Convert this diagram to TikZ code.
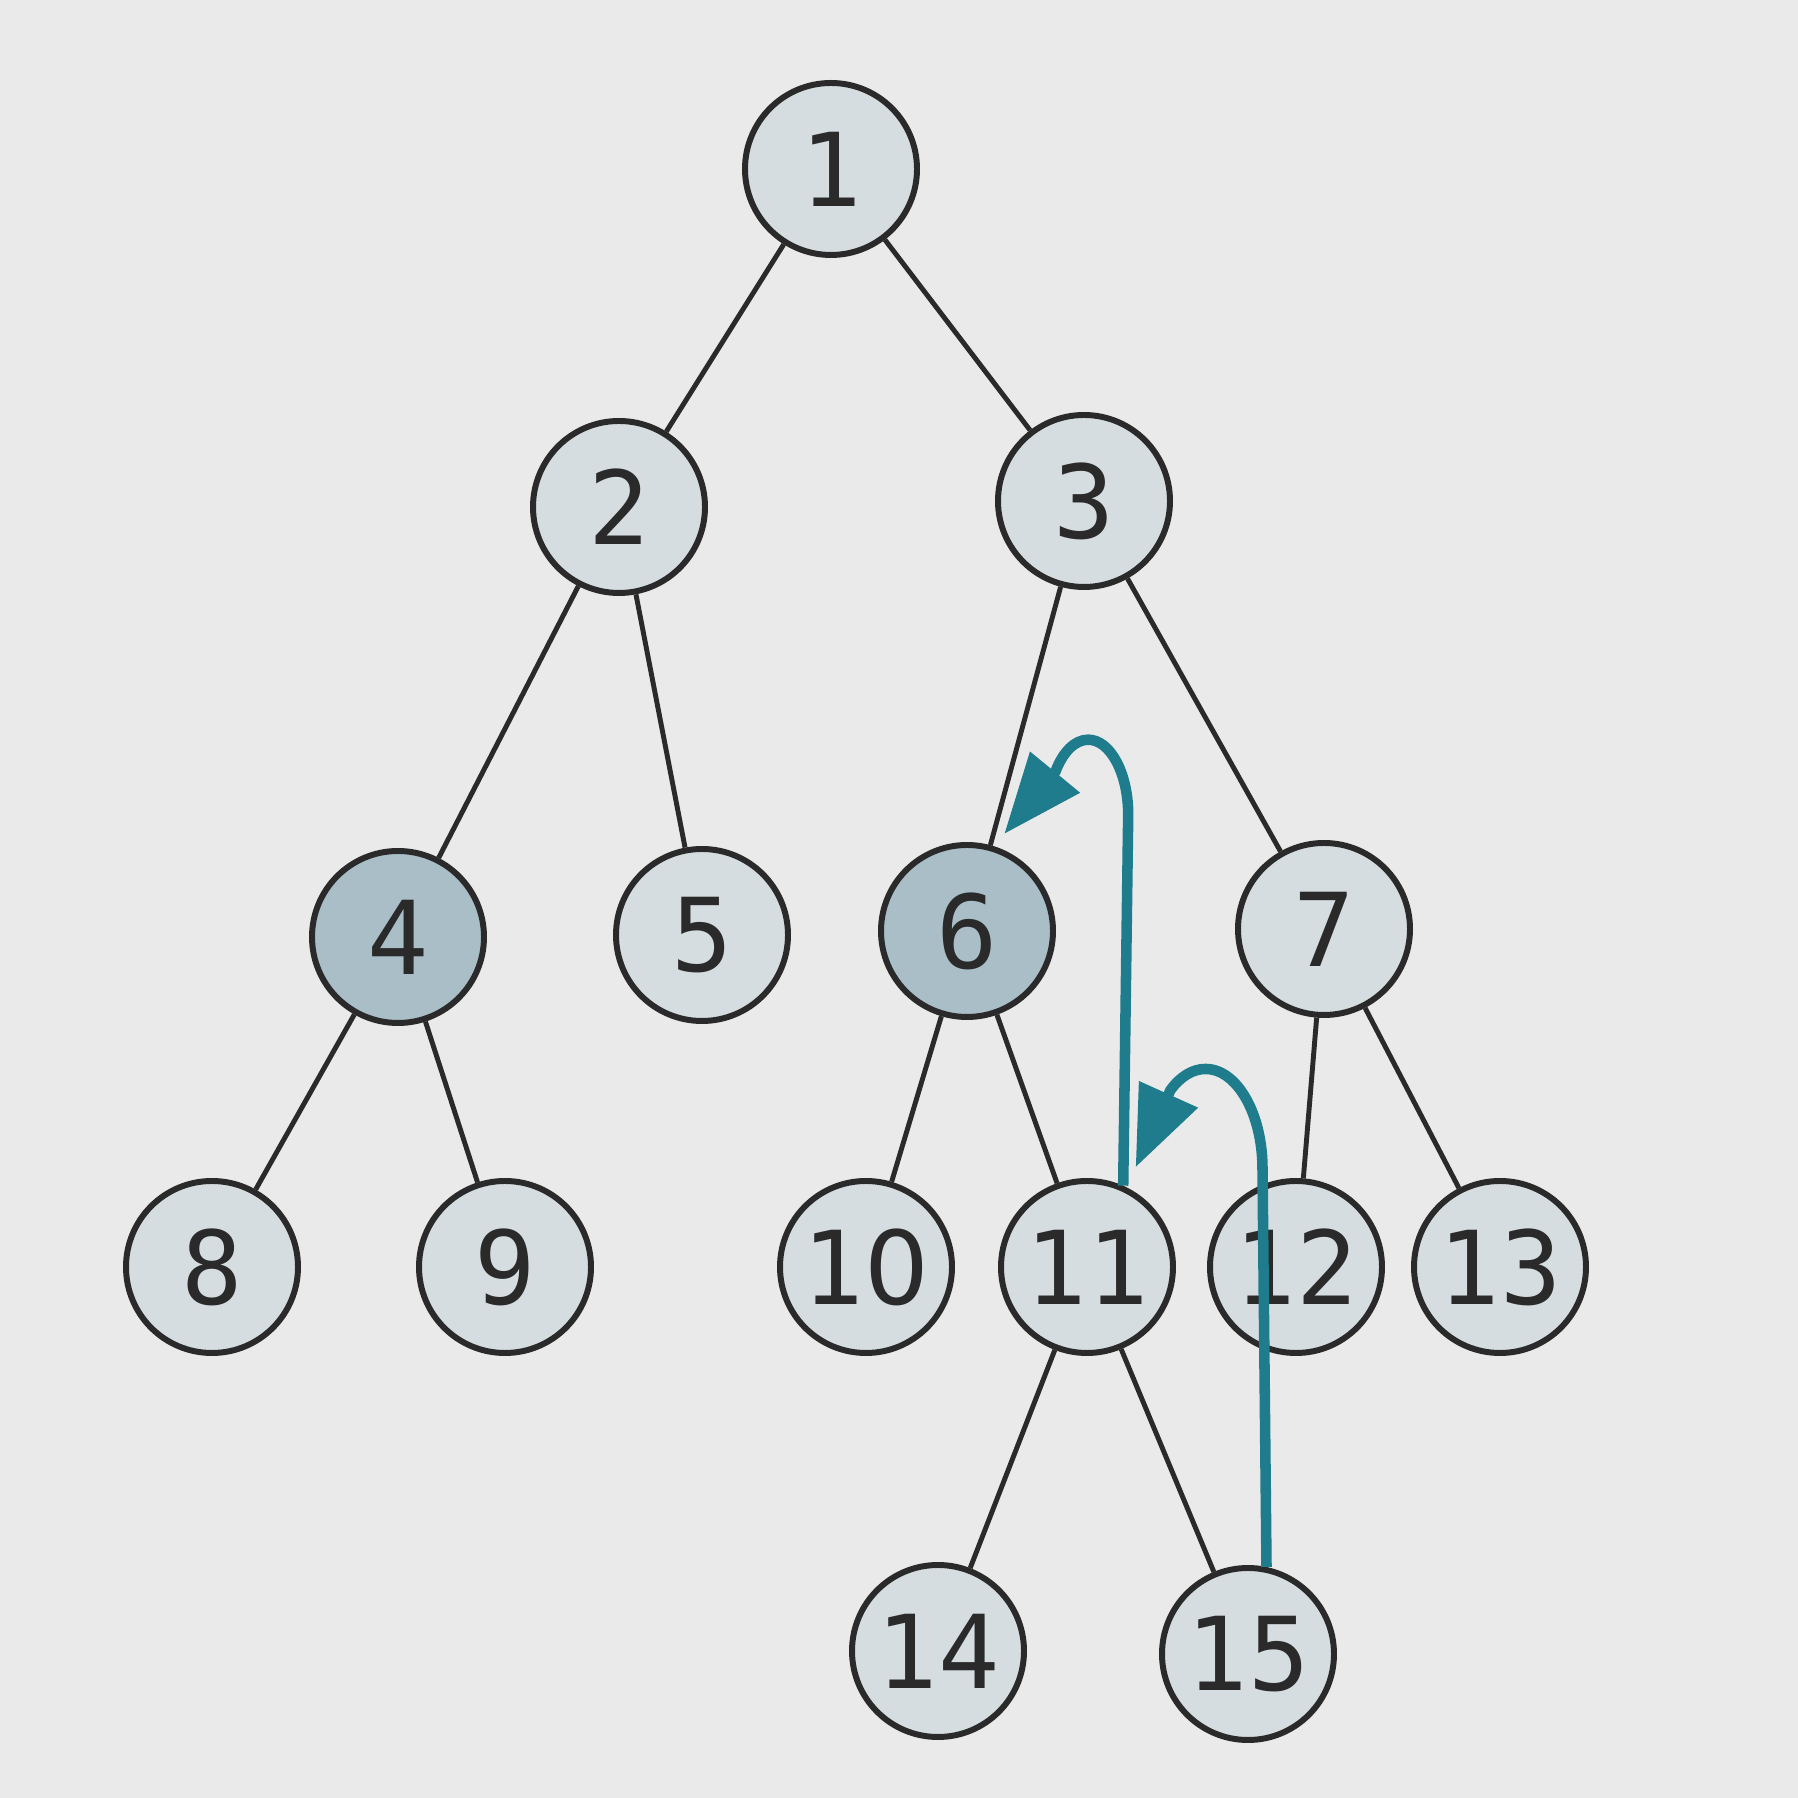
\documentclass[tikz,border=0pt]{standalone}
\usepackage{fontspec}
\setmonofont{DejaVu Sans Mono}
\newfontfamily\plainzero{DejaVu Sans}
\usetikzlibrary{arrows.meta}
\definecolor{paper}{HTML}{EAEAEA}
\definecolor{nodelight}{HTML}{D6DDE1}
\definecolor{nodedark}{HTML}{A9BEC7}
\definecolor{inkgray}{HTML}{2A2A2A}
\definecolor{swapteal}{HTML}{1E7C8C}
\tikzset{
  vertex/.style={circle, draw=inkgray, line width=1.7pt, fill=nodelight,
    minimum size=1.72cm, inner sep=0pt,
    font=\ttfamily\fontsize{29}{31}\selectfont, text=inkgray},
  marked/.style={vertex, fill=nodedark},
  edge/.style={draw=inkgray, line width=1.4pt},
  swapline/.style={draw=swapteal, line width=3pt,
    -{Triangle[length=0.8cm,width=0.62cm]}}
}
\begin{document}
\begin{tikzpicture}
	%%%%% START %%%%%
	\fill[paper] (0,0) rectangle (17.98,17.98);
	
	\node[vertex] (n1) at (8.31, 16.29) {1};
	
	\node[vertex] (n2) at (6.19, 12.91) {2};
	\node[vertex] (n3) at (10.84, 12.97) {3};
	
	\node[marked] (n4) at (3.98, 8.61) {4};
	\node[vertex] (n5) at (7.02, 8.63) {5};
	\node[marked] (n6) at (9.67, 8.67) {6};
	\node[vertex] (n7) at (13.24, 8.69) {7};
	
	\node[vertex] (n8) at (2.12, 5.31) {8};
	\node[vertex] (n9) at (5.05, 5.31) {9};
	\node[vertex] (n10) at (8.66, 5.31) {1{\plainzero 0}};
	\node[vertex] (n11) at (10.87, 5.31) {11};
	\node[vertex] (n12) at (12.96, 5.31) {12};
	\node[vertex] (n13) at (15.00, 5.31) {13};
	
	\node[vertex] (n14) at (9.38, 1.47) {14};
	\node[vertex] (n15) at (12.48, 1.44) {15};
	
	\draw[edge] (n1) -- (n2);
	\draw[edge] (n1) -- (n3);
	\draw[edge] (n2) -- (n4);
	\draw[edge] (n2) -- (n5);
	\draw[edge] (n3) -- (n6);
	\draw[edge] (n3) -- (n7);
	\draw[edge] (n4) -- (n8);
	\draw[edge] (n4) -- (n9);
	\draw[edge] (n6) -- (n10);
	\draw[edge] (n6) -- (n11);
	\draw[edge] (n7) -- (n12);
	\draw[edge] (n7) -- (n13);
	\draw[edge] (n11) -- (n14);
	\draw[edge] (n11) -- (n15);
	
	% swaps: 15 -> 11 -> 6
	\coordinate (t6) at ([shift={(69:0.15)}]n6.69);
	\coordinate (t11) at ([shift={(64:0.22)}]n11.64);
	\draw[swapline] (n11.66) -- ++(0.05,3.71)
		arc[start angle=0, end angle=145, x radius=0.4, y radius=0.75] -- (t6);
	\draw[swapline] (n15.78) -- ++(-0.04,3.98)
		arc[start angle=0, end angle=128, x radius=0.57, y radius=1.0] -- (t11);
	
	%%%%% END %%%%%
\end{tikzpicture}
\end{document}
